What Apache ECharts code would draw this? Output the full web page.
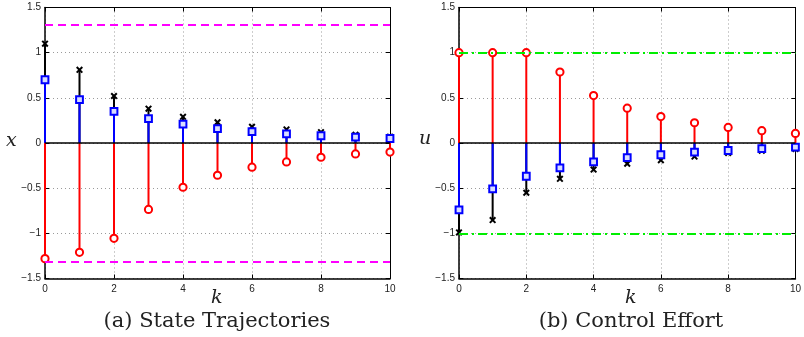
<!DOCTYPE html>
<html>
<head>
<meta charset="utf-8">
<script src="https://cdn.jsdelivr.net/npm/echarts@6/dist/echarts.min.js"></script>
<style>
  html, body { margin: 0; padding: 0; background: #fff; }
  #chart { width: 804px; height: 337px; }
</style>
</head>
<body>
<div id="chart"></div>
<script>
// Time steps
const steps = [0, 1, 2, 3, 4, 5, 6, 7, 8, 9, 10];

// (a) state trajectories
const stateUpper = [1.10, 0.81, 0.52, 0.38, 0.29, 0.23, 0.18, 0.15, 0.12, 0.09, 0.07];
const stateMid   = [0.70, 0.48, 0.35, 0.27, 0.21, 0.16, 0.125, 0.10, 0.08, 0.066, 0.05];
const stateLower = [-1.28, -1.21, -1.055, -0.735, -0.49, -0.357, -0.268, -0.21, -0.158, -0.121, -0.10];
const stateBound = 1.31;

// (b) control effort
const ctrlUpper = [1.0, 1.0, 1.0, 0.786, 0.525, 0.386, 0.293, 0.224, 0.172, 0.136, 0.106];
const ctrlMid   = [-0.74, -0.507, -0.368, -0.276, -0.21, -0.163, -0.13, -0.10, -0.083, -0.063, -0.045];
const ctrlLower = [-0.99, -0.853, -0.551, -0.397, -0.294, -0.23, -0.19, -0.15, -0.11, -0.085, -0.065];
const ctrlBound = 1.0;

// Axis ticks
const xTicks = [0, 2, 4, 6, 8, 10];
const yTicks = [-1.5, -1, -0.5, 0, 0.5, 1, 1.5];

const chart = echarts.init(document.getElementById('chart'), null, { renderer: 'canvas' });

const pairs = vals => steps.map((k, i) => [k, vals[i]]);

// Stem series: a line from zero to the value, capped with a marker
function stem(name, idx, vals, color, marker) {
  return {
    name, type: 'custom', xAxisIndex: idx, yAxisIndex: idx, clip: false,
    data: pairs(vals),
    renderItem(params, api) {
      const k = api.value(0), v = api.value(1);
      const p0 = api.coord([k, 0]);
      const p1 = api.coord([k, v]);
      const children = [{
        type: 'line',
        shape: { x1: p0[0], y1: p0[1], x2: p1[0], y2: p1[1] },
        style: { stroke: color, lineWidth: 2 }
      }];
      const [cx, cy] = p1;
      if (marker === 'circle') {
        children.push({ type: 'circle', shape: { cx, cy, r: 3.6 },
          style: { stroke: color, lineWidth: 2, fill: '#fff' } });
      } else if (marker === 'square') {
        children.push({ type: 'rect', shape: { x: cx - 3.4, y: cy - 3.4, width: 6.8, height: 6.8 },
          style: { stroke: color, lineWidth: 2, fill: '#d8ddff' } });
      } else {
        const s = 2.8;
        children.push({ type: 'line', shape: { x1: cx - s, y1: cy - s, x2: cx + s, y2: cy + s },
          style: { stroke: color, lineWidth: 2 } });
        children.push({ type: 'line', shape: { x1: cx - s, y1: cy + s, x2: cx + s, y2: cy - s },
          style: { stroke: color, lineWidth: 2 } });
      }
      return { type: 'group', children };
    }
  };
}

// Zero baseline plus the dashed bound lines
function refLines(idx, bound, color, dash) {
  return {
    type: 'line', xAxisIndex: idx, yAxisIndex: idx, data: [], silent: true,
    markLine: {
      silent: true, symbol: ['none', 'none'], label: { show: false },
      data: [
        { yAxis: 0, lineStyle: { color: '#000', width: 1.5, type: 'solid' } },
        { yAxis: bound, lineStyle: { color, width: 2, type: dash } },
        { yAxis: -bound, lineStyle: { color, width: 2, type: dash } }
      ]
    }
  };
}

const fmt = v => String(v).replace('-', '\u2212');
const tickFont = { fontFamily: 'Liberation Sans', fontSize: 10, color: '#222' };
const gridLine = { show: true, lineStyle: { color: '#9a9a9a', type: [1, 3], width: 1 } };
const tickStyle = { show: true, inside: true, length: 4, lineStyle: { color: '#000' } };

function xAxisFor(idx) {
  return {
    gridIndex: idx, type: 'value', min: 0, max: 10, interval: 2,
    axisLine: { show: true, onZero: false, lineStyle: { color: '#000', width: 1.5 } },
    axisTick: tickStyle,
    axisLabel: { ...tickFont, margin: 6, formatter: fmt, showMinLabel: true, showMaxLabel: true },
    splitLine: gridLine
  };
}
function yAxisFor(idx) {
  return {
    gridIndex: idx, type: 'value', min: -1.5, max: 1.5, interval: 0.5,
    axisLine: { show: true, onZero: false, lineStyle: { color: '#000', width: 1.5 } },
    axisTick: tickStyle,
    axisLabel: { ...tickFont, margin: 4, formatter: fmt },
    splitLine: gridLine
  };
}
// Mirrored tick marks on the top and right edges of each box
function xMirror(idx) {
  return { gridIndex: idx, type: 'value', position: 'top', min: 0, max: 10, interval: 2,
    axisLine: { show: true, onZero: false, lineStyle: { color: '#000', width: 1 } },
    axisTick: tickStyle, axisLabel: { show: false }, splitLine: { show: false } };
}
function yMirror(idx) {
  return { gridIndex: idx, type: 'value', position: 'right', min: -1.5, max: 1.5, interval: 0.5,
    axisLine: { show: true, onZero: false, lineStyle: { color: '#000', width: 1 } },
    axisTick: tickStyle, axisLabel: { show: false }, splitLine: { show: false } };
}

const mathFont = { fontFamily: 'DejaVu Serif', fontStyle: 'italic', fontSize: 19, fill: '#222' };
const capFont = { fontFamily: 'DejaVu Serif', fontSize: 21, fill: '#222' };

chart.setOption({
  animation: false,
  backgroundColor: '#fff',
  grid: [
    { left: 45, top: 7.5, width: 345, height: 271 },
    { left: 459, top: 7.5, width: 344.5, height: 271 }
  ],
  xAxis: [xAxisFor(0), xAxisFor(1), xMirror(0), xMirror(1)],
  yAxis: [yAxisFor(0), yAxisFor(1), yMirror(0), yMirror(1)],
  series: [
    refLines(0, stateBound, '#ff00ff', [8, 5]),
    stem('x upper', 0, stateUpper, '#000000', 'cross'),
    stem('x mid', 0, stateMid, '#0000ff', 'square'),
    stem('x lower', 0, stateLower, '#ff0000', 'circle'),
    refLines(1, ctrlBound, '#00ee00', [9, 4, 2, 4]),
    stem('u lower', 1, ctrlLower, '#000000', 'cross'),
    stem('u mid', 1, ctrlMid, '#0000ff', 'square'),
    stem('u upper', 1, ctrlUpper, '#ff0000', 'circle')
  ],
  graphic: [
    { type: 'text', left: 6, top: 132, style: { text: 'x', ...mathFont } },
    { type: 'text', left: 419, top: 130, style: { text: 'u', ...mathFont } },
    { type: 'text', left: 211, top: 289, style: { text: 'k', ...mathFont } },
    { type: 'text', left: 625, top: 289, style: { text: 'k', ...mathFont } },
    { type: 'text', x: 217, y: 311, style: { text: '(a) State Trajectories', align: 'center', ...capFont } },
    { type: 'text', x: 631, y: 311, style: { text: '(b) Control Effort', align: 'center', ...capFont } }
  ]
});
</script>
</body>
</html>
